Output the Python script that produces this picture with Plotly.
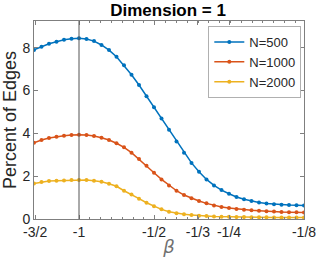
import math
import plotly.graph_objects as go

# x positions: log2(-1/beta)
x_pos = [-0.6, -0.5, -0.4, -0.3, -0.2, -0.1, 0.0, 0.1, 0.2, 0.3, 0.4, 0.5, 0.6,
         0.7, 0.8, 0.9, 1.0, 1.1, 1.2, 1.3, 1.4, 1.5, 1.6, 1.7, 1.8, 1.9, 2.0,
         2.1, 2.2, 2.3, 2.4, 2.5, 2.6, 2.7, 2.8, 2.9, 3.0]

n500 = [7.90, 8.05, 8.19, 8.28, 8.37, 8.42, 8.44, 8.41, 8.31, 8.13, 7.89, 7.58, 7.18,
        6.74, 6.26, 5.74, 5.22, 4.69, 4.17, 3.62, 3.10, 2.62, 2.21, 1.85, 1.57, 1.35,
        1.18, 1.03, 0.92, 0.84, 0.77, 0.72, 0.69, 0.67, 0.65, 0.64, 0.63]
n1000 = [3.56, 3.69, 3.78, 3.84, 3.89, 3.92, 3.94, 3.92, 3.88, 3.80, 3.69, 3.54, 3.35,
         3.10, 2.80, 2.49, 2.16, 1.85, 1.57, 1.32, 1.12, 0.97, 0.84, 0.73, 0.63, 0.56,
         0.51, 0.47, 0.43, 0.41, 0.39, 0.36, 0.35, 0.33, 0.32, 0.31, 0.30]
n2000 = [1.66, 1.73, 1.77, 1.79, 1.80, 1.82, 1.82, 1.82, 1.79, 1.74, 1.65, 1.53, 1.32,
         1.15, 0.95, 0.76, 0.59, 0.45, 0.34, 0.27, 0.22, 0.19, 0.15, 0.14, 0.12, 0.11,
         0.10, 0.09, 0.09, 0.08, 0.08, 0.08, 0.07, 0.07, 0.07, 0.07, 0.07]

series_names = ["N=500", "N=1000", "N=2000"]
series_colors = ["#0072BD", "#D95319", "#EDB120"]

tick_beta = [-1.5, -1.0, -0.5, -1/3, -0.25, -0.125]
tick_text = ["-3/2", "-1", "-1/2", "-1/3", "-1/4", "-1/8"]
ref_beta = -1.0

def to_x(b):
    return math.log2(-1.0 / b)

tick_vals = [to_x(b) for b in tick_beta]
minor_vals = [0.1 / math.log(2) * k for k in range(0, 21)]

fig = go.Figure()
for name, ys, col in zip(series_names, [n500, n1000, n2000], series_colors):
    fig.add_trace(go.Scatter(x=x_pos, y=ys, name=name, mode="lines+markers",
                             line=dict(color=col, width=1.5),
                             marker=dict(color=col, size=4)))

fig.add_vline(x=to_x(ref_beta), line=dict(color="#555555", width=1))

FONT = "Liberation Sans, Arial, sans-serif"
axis_font = dict(family=FONT, size=14, color="#262626")
fig.update_layout(
    template="none",
    width=316, height=257,
    margin=dict(l=34, r=12, t=21, b=38, autoexpand=False),
    paper_bgcolor="white", plot_bgcolor="white",
    title=dict(text="<b>Dimension = 1</b>", x=0.532, xanchor="center", y=0.962, yanchor="middle",
               font=dict(family=FONT, size=17, color="black")),
    showlegend=True,
    legend=dict(x=0.99, xanchor="right", y=0.975, yanchor="top",
                bgcolor="white", bordercolor="#b0b0b0", borderwidth=1,
                font=dict(family=FONT, size=13, color="#262626"),
                tracegroupgap=0, itemwidth=30),
)
fig.update_xaxes(range=[-0.6, 3.0], tickmode="array", tickvals=tick_vals, ticktext=tick_text,
                 automargin=False,
                 ticks="inside", ticklen=4, tickcolor="#7f7f7f", showline=True, linecolor="#7f7f7f",
                 linewidth=1, mirror="ticks", showgrid=False, zeroline=False, tickfont=axis_font,
                 ticklabeloverflow="allow",
                 minor=dict(tickmode="array", tickvals=minor_vals, ticks="inside", ticklen=2,
                            tickcolor="#7f7f7f", showgrid=False),
                 title=dict(text="<i>β</i>", standoff=3,
                            font=dict(family="DejaVu Sans, sans-serif", size=18, color="#707070")))
fig.update_yaxes(range=[0, 9.25], tickmode="array", tickvals=[0, 2, 4, 6, 8],
                 automargin=False,
                 ticks="inside", ticklen=4, tickcolor="#7f7f7f", showline=True, linecolor="#7f7f7f",
                 linewidth=1, mirror="ticks", showgrid=False, zeroline=False, tickfont=axis_font,
                 title=dict(text="Percent of Edges", standoff=7,
                            font=dict(family=FONT, size=18, color="#262626")))

fig.write_html("out.html", config={"displayModeBar": False},
               post_script="document.body.style.margin='0px';")
